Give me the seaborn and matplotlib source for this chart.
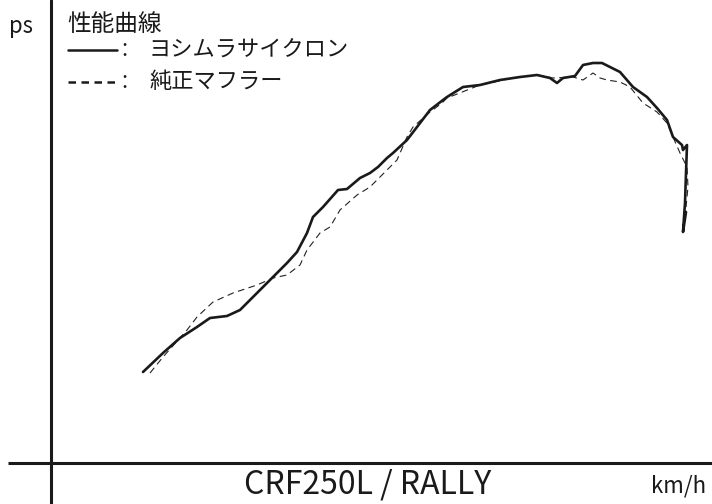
import matplotlib
matplotlib.use("Agg")
import matplotlib.pyplot as plt
import seaborn as sns
import pandas as pd

sns.set_theme(style="white")
plt.rcParams['font.family'] = ['Noto Sans CJK JP', 'DejaVu Sans']

# Curve traces (x: speed units, y: power units)
yoshimura_x = [93, 113, 130, 147, 160, 177, 190, 207, 220, 237, 247, 257, 263, 273, 288, 297,
               310, 320, 328, 337, 343, 357, 367, 380, 393, 397, 413, 430, 450, 470, 487, 500,
               507, 513, 525, 533, 543, 552, 560, 570, 583, 597, 607, 617, 623, 632, 633, 637,
               636, 635, 633, 636]
yoshimura_y = [91, 110, 125, 136, 145, 147, 153, 170, 183, 200, 211, 230, 246, 256, 273, 274,
               285, 290, 296, 305, 310, 323, 336, 353, 363, 366, 376, 378, 383, 386, 388, 385,
               380, 385, 387, 398, 400, 400, 396, 391, 376, 366, 355, 343, 326, 318, 313, 318,
               290, 260, 231, 251]
stock_x = [100, 113, 137, 147, 163, 183, 207, 223, 237, 250, 257, 270, 280, 290, 307, 320, 337,
           347, 357, 363, 380, 392, 397, 430, 463, 487, 503, 523, 533, 543, 550, 557, 570, 580,
           593, 607, 617, 623, 630, 637, 638, 636]
stock_y = [90, 106, 133, 146, 161, 170, 178, 185, 188, 198, 213, 230, 236, 253, 268, 276, 293,
           303, 326, 336, 351, 360, 365, 378, 385, 388, 385, 386, 383, 390, 385, 383, 381, 376,
           360, 351, 340, 326, 310, 296, 276, 256]

legend_solid = "ヨシムラサイクロン"
legend_dash = "純正マフラー"
chart_title = "性能曲線"
model_name = "CRF250L / RALLY"
y_unit = "ps"
x_unit = "km/h"

solid_df = pd.DataFrame({"x": yoshimura_x, "y": yoshimura_y})
stock_df = pd.DataFrame({"x": stock_x, "y": stock_y})

fig = plt.figure(figsize=(7.12, 5.04), dpi=100)
ax = fig.add_axes([0, 0, 1, 1])
ax.set_xlim(-50, 662)
ax.set_ylim(-41, 463)
ax.axis("off")

sns.lineplot(data=stock_df, x="x", y="y", sort=False, estimator=None, ax=ax,
             color="#222222", linewidth=0.8, linestyle=(0, (6, 4)))
sns.lineplot(data=solid_df, x="x", y="y", sort=False, estimator=None, ax=ax,
             color="#1a1a1a", linewidth=1.9)

# axes lines
ax.axvline(1, color="#1a1a1a", linewidth=2.2)
ax.hlines(0, -42, 662, color="#1a1a1a", linewidth=2.2)

# legend samples
ax.plot([18, 67], [413, 413], color="#1a1a1a", linewidth=1.8)
ax.plot([18, 67], [381, 381], color="#1a1a1a", linewidth=1.8, linestyle=(0, (3.0, 2.2)))

fs = 16
ax.text(-29, 437, y_unit, fontsize=fs, ha="center", va="center", color="#1a1a1a")
ax.text(17, 439, chart_title, fontsize=17, ha="left", va="center", color="#1a1a1a")
for yy, lbl in [(413, legend_solid), (381, legend_dash)]:
    ax.text(74, yy, ":", fontsize=fs, ha="center", va="center", color="#1a1a1a")
    ax.text(99, yy, lbl, fontsize=fs, ha="left", va="center", color="#1a1a1a")
ax.text(318, -22, model_name, fontsize=23, ha="center", va="center", color="#1a1a1a")
ax.text(629, -23, x_unit, fontsize=16, ha="center", va="center", color="#1a1a1a")

fig.savefig("out.png", dpi=100)
